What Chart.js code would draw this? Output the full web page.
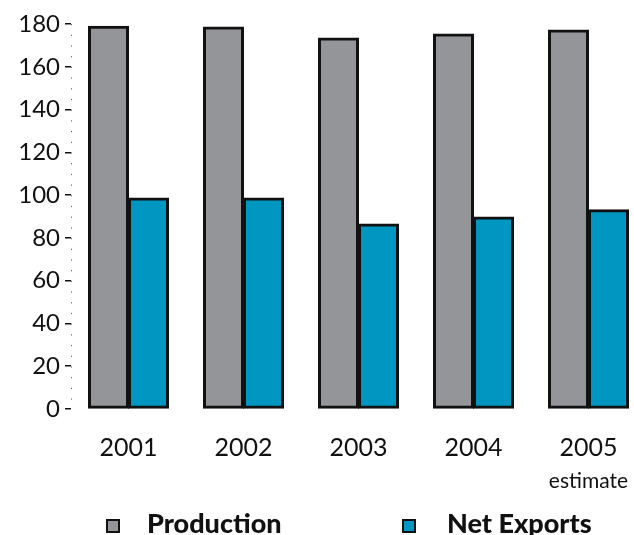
<!DOCTYPE html>
<html>
<head>
<meta charset="utf-8">
<script src="https://cdn.jsdelivr.net/npm/chart.js@4.4.1/dist/chart.umd.min.js"></script>
<style>
  html, body { margin: 0; padding: 0; background: #fff; overflow: hidden; }
  #wrap { position: relative; width: 646px; height: 535px; }
  .box { position: absolute; top: 519px; width: 10px; height: 10px; border: 2.5px solid #111; }
  .ltext { position: absolute; top: 507px; font-family: "Lato", sans-serif; font-weight: 900; font-size: 27px; line-height: 32px; color: #111; white-space: nowrap; }
</style>
</head>
<body>
<div id="wrap">
  <canvas id="chart" width="646" height="535"></canvas>
  <div class="box" style="left:106px;background:#939598"></div>
  <div class="ltext" style="left:147px">Production</div>
  <div class="box" style="left:402px;background:#0096c2"></div>
  <div class="ltext" style="left:447px">Net Exports</div>
</div>
<script>
const years = ['2001', '2002', '2003', '2004', '2005'];
const production = [179, 178.6, 173.4, 175.3, 177.2];
const netExports = [98.6, 98.6, 86.5, 89.8, 93.2];
const yTicks = [0, 20, 40, 60, 80, 100, 120, 140, 160, 180];

const FONT = '"Lato", sans-serif';

// dotted y axis line (border.dash only affects grid lines in v4)
const dottedAxis = {
  id: 'dottedAxis',
  beforeDatasetsDraw(chart) {
    const y = chart.scales.y;
    const ctx = chart.ctx;
    ctx.save();
    ctx.strokeStyle = '#666';
    ctx.lineWidth = 1;
    ctx.setLineDash([1.2, 9.5]);
    ctx.beginPath();
    ctx.moveTo(y.right + 0.5, chart.chartArea.top);
    ctx.lineTo(y.right + 0.5, chart.chartArea.bottom);
    ctx.stroke();
    ctx.restore();
  }
};

// small "estimate" note under the last year
const estimateNote = {
  id: 'estimateNote',
  afterDraw(chart) {
    const x = chart.scales.x.getPixelForValue(years.length - 1);
    const ctx = chart.ctx;
    ctx.save();
    ctx.font = '21px ' + FONT;
    ctx.fillStyle = '#111';
    ctx.textAlign = 'center';
    ctx.textBaseline = 'alphabetic';
    ctx.fillText('estimate', x, 488);
    ctx.restore();
  }
};

new Chart(document.getElementById('chart'), {
  type: 'bar',
  data: {
    labels: years,
    datasets: [
      {
        label: 'Production',
        data: production,
        backgroundColor: '#939598',
        borderColor: '#111',
        borderWidth: 3,
        borderSkipped: false,
        inflateAmount: 0.5, // overlap neighbours so no light seam shows between bars
        categoryPercentage: 0.6957,
        barPercentage: 1.0
      },
      {
        label: 'Net Exports',
        data: netExports,
        backgroundColor: '#0096c2',
        borderColor: '#111',
        borderWidth: 3,
        borderSkipped: false,
        inflateAmount: 0.5,
        categoryPercentage: 0.6957,
        barPercentage: 1.0
      }
    ]
  },
  options: {
    responsive: false,
    animation: false,
    layout: { padding: { top: 24, right: 0, left: 0, bottom: 0 } },
    plugins: {
      legend: { display: false },
      tooltip: { enabled: false }
    },
    scales: {
      x: {
        grid: { display: false, drawTicks: false },
        border: { display: false },
        ticks: { color: '#111', font: { family: FONT, size: 25 }, padding: 24 },
        afterFit: (scale) => { scale.height = 126; }
      },
      y: {
        min: 0,
        max: 180,
        afterBuildTicks: (scale) => { scale.ticks = yTicks.map(v => ({ value: v })); },
        grid: { drawOnChartArea: false, drawTicks: true, tickLength: 6, color: '#111', lineWidth: 1.5 },
        border: { display: false },
        ticks: { color: '#111', font: { family: FONT, size: 24 }, padding: 5 },
        afterFit: (scale) => { scale.width = 71; }
      }
    }
  },
  plugins: [dottedAxis, estimateNote]
});
</script>
</body>
</html>
